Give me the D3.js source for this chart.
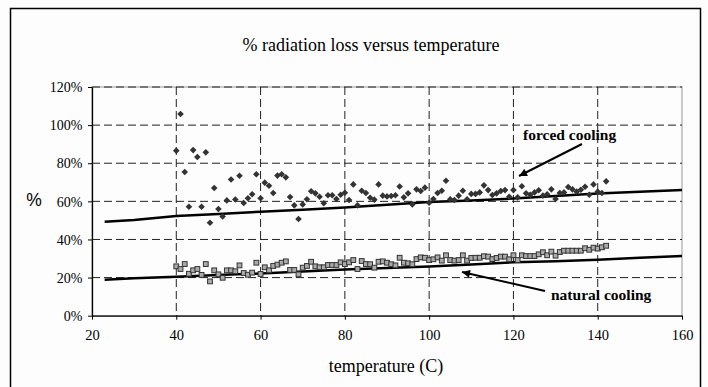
<!DOCTYPE html>
<html><head><meta charset="utf-8">
<script src="https://cdn.jsdelivr.net/npm/d3@7"></script>
<style>html,body{margin:0;padding:0;background:#fdfdfd;}svg{display:block;}</style>
</head><body>
<svg id="c" width="708" height="387"></svg>
<script>
const title = "% radiation loss versus temperature";
const xTicks = [20, 40, 60, 80, 100, 120, 140, 160];
const yTicks = [0, 20, 40, 60, 80, 100, 120];

const forcedX = [40,41,42,43,44,45,46,47,48,49,50,51,52,53,54,55,56,57,58,59,60,61,62,63,64,65,66,67,68,69,70,71,72,73,74,75,76,77,78,79,80,81,82,83,84,85,86,87,88,89,90,91,92,93,94,95,96,97,98,99,100,101,102,103,104,105,106,107,108,109,110,111,112,113,114,115,116,117,118,119,120,121,122,123,124,125,126,127,128,129,130,131,132,133,134,135,136,137,138,139,140,141,142];
const forcedY = [86.6,105.8,75.4,57.2,86.9,83.3,57.2,85.7,48.8,67.0,56.0,52.1,60.5,71.5,61.0,73.4,59.1,61.6,63.7,74.2,61.6,69.8,68.2,64.4,73.5,74.2,72.6,62.3,57.9,50.7,58.4,61.1,65.3,64.2,62.4,59.0,63.2,63.2,61.2,63.5,64.5,60.7,68.9,57.9,65.6,64.4,61.9,60.9,68.9,63.0,62.6,62.8,63.2,67.8,62.1,64.2,58.4,66.3,65.4,67.2,59.3,61.2,64.4,65.6,70.8,61.1,60.7,63.0,65.6,61.1,63.9,63.9,64.7,68.4,65.9,63.3,64.2,65.4,65.9,62.4,65.9,62.1,67.9,64.2,63.5,64.7,65.8,63.0,63.7,66.3,61.2,64.4,64.7,67.5,66.3,65.1,66.1,67.7,63.5,68.9,65.1,64.4,70.5];

const naturalX = forcedX;
const naturalY = [25.9,24.5,27.1,22.0,23.8,24.5,21.4,27.1,18.0,23.8,21.7,19.9,23.8,23.8,23.3,26.4,22.4,21.5,22.6,27.8,21.9,25.4,23.8,26.1,26.8,27.8,28.5,24.0,24.0,21.7,25.2,26.1,28.3,25.9,25.4,25.4,26.6,26.6,26.6,28.0,27.1,28.0,29.2,24.5,28.7,27.1,27.0,25.2,28.3,28.5,27.8,27.0,26.4,30.4,27.8,27.5,27.0,29.7,30.6,30.4,29.2,29.6,30.6,28.9,31.7,29.2,28.9,29.2,31.7,28.9,30.3,30.4,30.4,31.2,31.0,29.7,30.3,31.0,31.0,29.6,31.7,29.2,31.7,31.3,31.3,31.3,32.2,33.3,31.7,33.6,31.5,33.4,34.1,34.1,34.1,34.1,34.1,35.4,34.6,35.7,35.2,35.9,36.7];

const lineX = [23,30,40,50,60,70,80,90,100,110,120,130,140,150,160];
const forcedLineY = [49.3,50.2,52.3,53.4,54.6,55.6,56.8,58.2,59.6,60.5,61.5,62.8,64.1,65.0,66.0];
const naturalLineY = [18.9,19.6,20.4,21.3,22.2,23.2,24.2,25.0,25.8,26.9,28.0,28.6,29.3,30.4,31.3];

const svg = d3.select("#c");
const serif = "'Liberation Serif','Times New Roman',serif";
const L = 92, R = 682, T = 87, B = 315.7;
const x = d3.scaleLinear().domain([20,160]).range([L,R]);
const y = d3.scaleLinear().domain([0,120]).range([B,T]);

svg.append("rect").attr("x",0).attr("y",0).attr("width",708).attr("height",387).attr("fill","#fdfdfd");
svg.append("rect").attr("x",10.5).attr("y",8.5).attr("width",690).attr("height",400)
  .attr("fill","none").attr("stroke","#000").attr("stroke-width",1.5);

// plot border (gray)
svg.append("rect").attr("x",L).attr("y",T).attr("width",R-L).attr("height",B-T)
  .attr("fill","none").attr("stroke","#999").attr("stroke-width",1);

// grid
const g = svg.append("g");
g.selectAll(".hg").data(yTicks.filter(d=>d>0)).join("line")
  .attr("x1",L).attr("x2",R).attr("y1",d=>y(d)).attr("y2",d=>y(d))
  .attr("stroke","#222").attr("stroke-width",1).attr("stroke-dasharray","8,4");
g.selectAll(".vg").data(xTicks.filter(d=>d>20 && d<160)).join("line")
  .attr("y1",T).attr("y2",B).attr("x1",d=>x(d)).attr("x2",d=>x(d))
  .attr("stroke","#222").attr("stroke-width",1).attr("stroke-dasharray","8,4");

// axes
const xa = svg.append("g").attr("transform",`translate(0,${B})`)
  .call(d3.axisBottom(x).tickValues(xTicks).tickSize(4).tickSizeOuter(0).tickFormat(d3.format("d")));
const ya = svg.append("g").attr("transform",`translate(${L},0)`)
  .call(d3.axisLeft(y).tickValues(yTicks).tickSize(4).tickSizeOuter(0).tickFormat(d=>d+"%"));
[xa,ya].forEach(a=>{
  a.select(".domain").attr("stroke","#000").attr("stroke-width",1.3);
  a.selectAll(".tick line").attr("stroke","#000");
  a.selectAll("text").attr("font-family",serif).attr("fill","#000");
});
xa.selectAll("text").attr("font-size",14.5).attr("dy",null).attr("y",24.5);
ya.selectAll("text").attr("font-size",14).attr("x",-9.5).attr("dy","0.34em");

// lines
const smooth = d3.line().x(d=>x(d[0])).y(d=>y(d[1]));
svg.append("path").datum(lineX.map((v,i)=>[v,forcedLineY[i]])).attr("d",smooth)
  .attr("fill","none").attr("stroke","#000").attr("stroke-width",2.5);
svg.append("path").datum(lineX.map((v,i)=>[v,naturalLineY[i]])).attr("d",smooth)
  .attr("fill","none").attr("stroke","#000").attr("stroke-width",2.5);

// points
const dd = 3.3;
svg.append("g").selectAll("path").data(forcedX.map((v,i)=>[v,forcedY[i]])).join("path")
  .attr("d",d=>{const cx=x(d[0]),cy=y(d[1]);return `M${cx},${cy-dd}L${cx+dd},${cy}L${cx},${cy+dd}L${cx-dd},${cy}Z`;})
  .attr("fill","#333");
const sq = 2.4;
svg.append("g").selectAll("rect").data(naturalX.map((v,i)=>[v,naturalY[i]])).join("rect")
  .attr("x",d=>x(d[0])-sq).attr("y",d=>y(d[1])-sq).attr("width",2*sq).attr("height",2*sq)
  .attr("fill","#aaa").attr("stroke","#333").attr("stroke-width",1);

// titles
svg.append("text").attr("x",371).attr("y",51).attr("text-anchor","middle")
  .attr("font-family",serif).attr("font-size",18).text(title);
svg.append("text").attr("x",386).attr("y",372).attr("text-anchor","middle")
  .attr("font-family",serif).attr("font-size",18).text("temperature (C)");
svg.append("text").attr("x",34).attr("y",206).attr("text-anchor","middle")
  .attr("font-family","'Liberation Sans',Arial,sans-serif").attr("font-size",17.5).text("%");

// annotations
const defs = svg.append("defs");
defs.append("marker").attr("id","ah").attr("viewBox","0 0 10 10").attr("refX",10).attr("refY",5)
  .attr("markerWidth",10).attr("markerHeight",8).attr("markerUnits","userSpaceOnUse").attr("orient","auto")
  .append("path").attr("d","M0,0L10,5L0,10Z").attr("fill","#000");
svg.append("text").attr("x",523).attr("y",140).attr("font-family",serif).attr("font-weight","bold")
  .attr("font-size",15.5).text("forced cooling");
svg.append("line").attr("x1",582).attr("y1",144).attr("x2",519).attr("y2",176)
  .attr("stroke","#000").attr("stroke-width",2).attr("marker-end","url(#ah)");
svg.append("text").attr("x",551).attr("y",300).attr("font-family",serif).attr("font-weight","bold")
  .attr("font-size",15.5).text("natural cooling");
svg.append("line").attr("x1",545).attr("y1",291).attr("x2",462).attr("y2",272)
  .attr("stroke","#000").attr("stroke-width",2).attr("marker-end","url(#ah)");
</script>
</body></html>
